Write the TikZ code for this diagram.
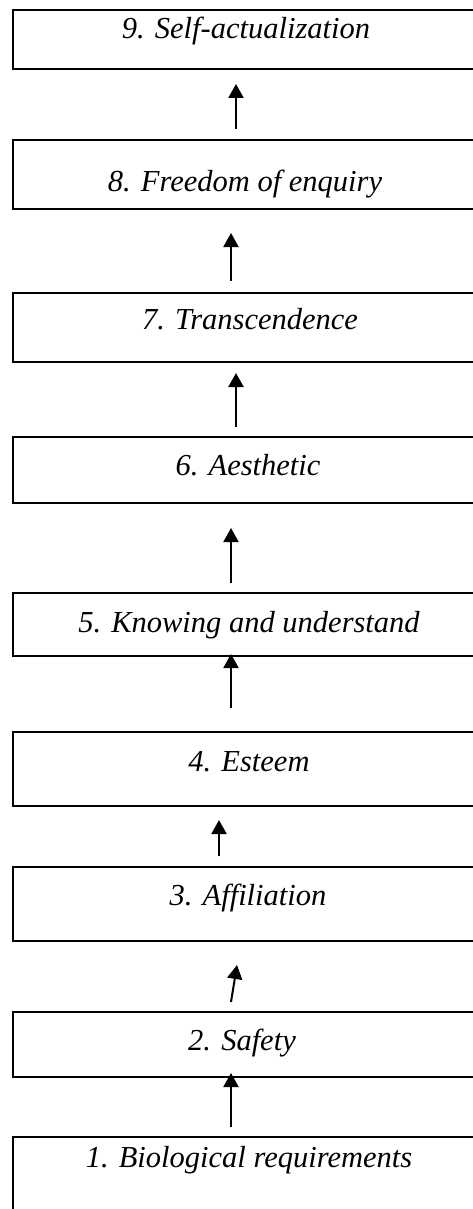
\documentclass[tikz,border=0pt]{standalone}
\usepackage{fontspec}
\setmainfont{Liberation Serif}
\usetikzlibrary{arrows.meta}
\tikzset{
  box/.style={draw=black, line width=1.8pt, fill=white, inner sep=0pt, outer sep=0pt, minimum width=470pt},
  lbl/.style={anchor=base, inner sep=0pt, font=\itshape\fontsize{30.5}{36}\selectfont},
  arr/.style={line width=2pt, -{Triangle[width=15pt,length=14pt]}}
}
\begin{document}
\begin{tikzpicture}[x=1pt,y=-1pt]
\useasboundingbox (0,0) rectangle (472,1209);
% boxes
\node[box, minimum height=59pt] (b9) at (248,39.5) {};
\node[box, minimum height=69pt] (b8) at (248,174.5) {};
\node[box, minimum height=69pt] (b7) at (248,327.5) {};
\node[box, minimum height=66pt] (b6) at (248,470) {};
\node[box, minimum height=63pt] (b5) at (248,624.5) {};
\node[box, minimum height=74pt] (b4) at (248,769) {};
\node[box, minimum height=74pt] (b3) at (248,904) {};
\node[box, minimum height=65pt] (b2) at (248,1044.5) {};
\node[box, minimum height=93pt] (b1) at (248,1183.5) {};
% labels
\node[lbl] (t9) at (246,39) {9. Self-actualization};
\node[lbl] (t8) at (245,192) {8. Freedom of enquiry};
\node[lbl] (t7) at (250,329) {7. Transcendence};
\node[lbl] (t6) at (248,475) {6. Aesthetic};
\node[lbl] (t5) at (249,632) {5. Knowing and understand};
\node[lbl] (t4) at (249,771) {4. Esteem};
\node[lbl] (t3) at (248,905) {3. Affiliation};
\node[lbl] (t2) at (242,1050) {2. Safety};
\node[lbl] (t1) at (249,1167) {1. Biological requirements};
% arrow ends
\coordinate (a9s) at (236,129); \coordinate (a9e) at (236,84);
\coordinate (a8s) at (231,281); \coordinate (a8e) at (231,233);
\coordinate (a7s) at (236,427); \coordinate (a7e) at (236,373);
\coordinate (a6s) at (231,583); \coordinate (a6e) at (231,528);
\coordinate (a5s) at (231,708); \coordinate (a5e) at (231,654);
\coordinate (a4s) at (219,856); \coordinate (a4e) at (219,820);
\coordinate (a3s) at (231,1002); \coordinate (a3e) at (237,965);
\coordinate (a2s) at (231,1127); \coordinate (a2e) at (231,1073);
\draw[arr] (a9s) -- (a9e);
\draw[arr] (a8s) -- (a8e);
\draw[arr] (a7s) -- (a7e);
\draw[arr] (a6s) -- (a6e);
\draw[arr] (a5s) -- (a5e);
\draw[arr] (a4s) -- (a4e);
\draw[arr] (a3s) -- (a3e);
\draw[arr] (a2s) -- (a2e);
\end{tikzpicture}
\end{document}
